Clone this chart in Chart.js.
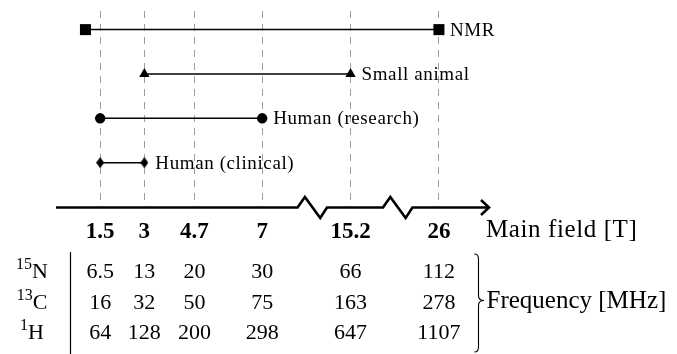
<!DOCTYPE html>
<html>
<head>
<meta charset="utf-8">
<script src="https://cdn.jsdelivr.net/npm/chart.js@4.4.1/dist/chart.umd.min.js"></script>
<style>
  html, body { margin: 0; padding: 0; background: #fff; }
  canvas { display: block; }
</style>
</head>
<body>
<canvas id="c" width="677" height="354"></canvas>
<script>
// Main field strengths (T) and the labels printed under the axis
const fieldTicks = [1.5, 3, 4.7, 7, 15.2, 26];
const fieldLabels = ['1.5', '3', '4.7', '7', '15.2', '26'];

// Field range covered by each kind of magnet
const groups = ['NMR', 'Small animal', 'Human (research)', 'Human (clinical)'];
const rangeLow = [1, 3, 1.5, 1.5];
const rangeHigh = [26, 15.2, 7, 3];
const markerShapes = ['square', 'triangle', 'circle', 'diamond'];

// Larmor frequencies (MHz) at each field strength
const isotopeMass = ['15', '13', '1'];
const isotopeSymbol = ['N', 'C', 'H'];
const freqN15 = [6.5, 13, 20, 30, 66, 112];
const freqC13 = [16, 32, 50, 75, 163, 278];
const freqH1 = [64, 128, 200, 298, 647, 1107];
const freqRows = [freqN15, freqC13, freqH1];

// Visible stretches of the broken field axis (T); each gap gets a zigzag
const axisSegments = [[0, 8.2], [14.4, 16.3], [25.1, 27.7]];
const breakWidth = 1.0;

const SERIF = '"Liberation Serif", "Times New Roman", serif';

// Map tesla onto the continuous axis coordinate used by the scale
function toAxis(t) {
  let offset = 0;
  for (let i = 0; i < axisSegments.length; i++) {
    const [a, b] = axisSegments[i];
    if (t <= b || i === axisSegments.length - 1) {
      return offset + Math.max(t, a) - a;
    }
    offset += (b - a) + breakWidth;
  }
  return offset;
}
function fromAxis(u) {
  let offset = 0;
  for (let i = 0; i < axisSegments.length; i++) {
    const [a, b] = axisSegments[i];
    const len = b - a;
    if (u <= offset + len || i === axisSegments.length - 1) {
      return a + Math.max(0, u - offset);
    }
    offset += len + breakWidth;
  }
  return u;
}
const axisSpan = axisSegments.reduce((s, [a, b]) => s + (b - a), 0) + breakWidth * (axisSegments.length - 1);

// Linear scale with compressed breaks
class BrokenScale extends Chart.LinearScale {
  static id = 'broken';
  getPixelForValue(value) {
    return super.getPixelForValue(value == null ? value : toAxis(value));
  }
  getValueForPixel(pixel) {
    return fromAxis(super.getValueForPixel(pixel));
  }
}
Chart.register(BrokenScale);

// Narrow diamond marker
function diamondMarker(w, h) {
  const c = document.createElement('canvas');
  c.width = w; c.height = h;
  const g = c.getContext('2d');
  g.fillStyle = '#000';
  g.beginPath();
  g.moveTo(w / 2, 0); g.lineTo(w, h / 2); g.lineTo(w / 2, h); g.lineTo(0, h / 2);
  g.closePath(); g.fill();
  return c;
}
const markerStyle = {
  square:   { pointStyle: 'rect', pointRadius: 7.8 },
  triangle: { pointStyle: 'triangle', pointRadius: 6 },
  circle:   { pointStyle: 'circle', pointRadius: 5.2 },
  diamond:  { pointStyle: diamondMarker(8, 11), pointRadius: 4 }
};

const datasets = groups.map((name, i) => Object.assign({
  label: name,
  data: [
    { x: rangeLow[i], y: groups.length - i },
    { x: rangeHigh[i], y: groups.length - i }
  ],
  borderColor: '#000',
  backgroundColor: '#000',
  pointBackgroundColor: '#000',
  pointBorderWidth: 0,
  borderWidth: 1.5,
  tension: 0
}, markerStyle[markerShapes[i]]));

// Axis line with breaks, tick labels, group labels and frequency table
const diagramPlugin = {
  id: 'fieldDiagram',
  afterDatasetsDraw(chart) {
    const ctx = chart.ctx;
    ctx.save();
    ctx.fillStyle = '#000';
    ctx.font = '19px ' + SERIF;
    ctx.letterSpacing = '0.6px';
    ctx.textAlign = 'left';
    ctx.textBaseline = 'alphabetic';
    chart.data.datasets.forEach((ds, i) => {
      const meta = chart.getDatasetMeta(i);
      const end = meta.data[meta.data.length - 1];
      ctx.fillText(groups[i], end.x + 11, end.y + 6);
    });
    ctx.restore();
  },
  afterDraw(chart) {
    const ctx = chart.ctx;
    const xs = chart.scales.x;
    const area = chart.chartArea;
    const y0 = area.bottom + 0.5;
    ctx.save();
    ctx.strokeStyle = '#000';
    ctx.fillStyle = '#000';

    // main field axis
    ctx.lineWidth = 2.6;
    ctx.lineJoin = 'miter';
    ctx.lineCap = 'butt';
    ctx.beginPath();
    ctx.moveTo(xs.left, y0);
    for (let i = 0; i < axisSegments.length - 1; i++) {
      const xa = xs.getPixelForValue(axisSegments[i][1]);
      const xb = xs.getPixelForValue(axisSegments[i + 1][0]);
      const w = xb - xa;
      ctx.lineTo(xa, y0);
      ctx.lineTo(xa + 0.25 * w, y0 - 10.5);
      ctx.lineTo(xa + 0.77 * w, y0 + 10.5);
      ctx.lineTo(xb, y0);
    }
    ctx.lineTo(xs.right, y0);
    ctx.stroke();
    ctx.beginPath();
    ctx.moveTo(xs.right - 8, y0 - 7.5);
    ctx.lineTo(xs.right, y0);
    ctx.lineTo(xs.right - 8, y0 + 7.5);
    ctx.stroke();

    // tick labels
    ctx.font = 'bold 23px ' + SERIF;
    ctx.textAlign = 'center';
    ctx.textBaseline = 'alphabetic';
    xs.ticks.forEach((t, i) => {
      ctx.fillText(t.label, xs.getPixelForTick(i), area.bottom + 30.5);
    });
    ctx.font = '25px ' + SERIF;
    ctx.textAlign = 'left';
    ctx.letterSpacing = '0.6px';
    ctx.fillText('Main field [T]', xs.right - 3, area.bottom + 29.5);
    ctx.letterSpacing = '0px';

    // frequency table
    const rowBase = [area.bottom + 71, area.bottom + 101.5, area.bottom + 132];
    ctx.lineWidth = 1.2;
    ctx.beginPath();
    ctx.moveTo(70.5, area.bottom + 45);
    ctx.lineTo(70.5, chart.height);
    ctx.stroke();

    freqRows.forEach((row, r) => {
      // isotope label with superscript mass number
      ctx.font = '16px ' + SERIF;
      const wm = ctx.measureText(isotopeMass[r]).width;
      ctx.font = '22px ' + SERIF;
      const ws = ctx.measureText(isotopeSymbol[r]).width;
      const x0 = 32 - (wm + ws) / 2;
      ctx.textAlign = 'left';
      ctx.font = '16px ' + SERIF;
      ctx.fillText(isotopeMass[r], x0, rowBase[r] - 9);
      ctx.font = '22px ' + SERIF;
      ctx.fillText(isotopeSymbol[r], x0 + wm, rowBase[r]);

      ctx.textAlign = 'center';
      row.forEach((v, j) => {
        ctx.fillText(String(v), xs.getPixelForValue(fieldTicks[j]), rowBase[r]);
      });
    });

    // right brace grouping the three rows
    const bx = 478.5, top = area.bottom + 47, bot = chart.height - 2;
    const mid = (rowBase[1] - 8);
    ctx.lineWidth = 1.1;
    ctx.beginPath();
    ctx.moveTo(bx - 4, top);
    ctx.quadraticCurveTo(bx, top, bx, top + 5);
    ctx.lineTo(bx, mid - 5);
    ctx.quadraticCurveTo(bx, mid, bx + 5.5, mid);
    ctx.quadraticCurveTo(bx, mid, bx, mid + 5);
    ctx.lineTo(bx, bot - 5);
    ctx.quadraticCurveTo(bx, bot, bx - 4, bot);
    ctx.stroke();

    ctx.font = '25px ' + SERIF;
    ctx.textAlign = 'left';
    ctx.fillText('Frequency [MHz]', bx + 8, rowBase[1] - 0.5);
    ctx.restore();
  }
};

new Chart(document.getElementById('c'), {
  type: 'line',
  data: { datasets },
  options: {
    responsive: false,
    devicePixelRatio: 1,
    animation: false,
    events: [],
    layout: { padding: { left: 56, right: 188, top: 11, bottom: 147 } },
    plugins: { legend: { display: false }, tooltip: { enabled: false } },
    scales: {
      x: {
        type: 'broken',
        min: 0,
        max: axisSpan,
        bounds: 'data',
        afterBuildTicks: (scale) => {
          scale.ticks = fieldTicks.map(v => ({ value: v }));
        },
        ticks: {
          display: false,
          callback: (value, index) => fieldLabels[index]
        },
        grid: { color: '#9e9e9e', lineWidth: 1, drawTicks: false },
        border: { display: false, dash: [7, 6] }
      },
      y: {
        type: 'linear',
        min: 0,
        max: 4.42,
        display: false
      }
    }
  },
  plugins: [diagramPlugin]
});
</script>
</body>
</html>
